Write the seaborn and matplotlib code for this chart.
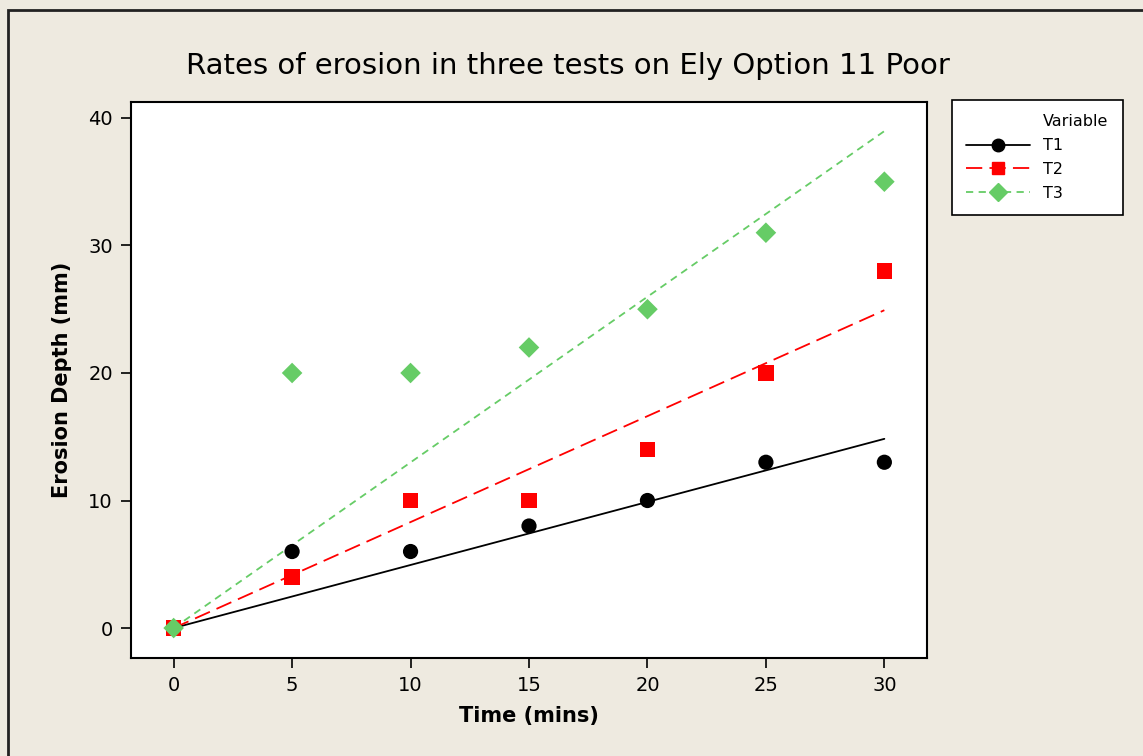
import numpy as np
import pandas as pd
import seaborn as sns
import matplotlib
matplotlib.use("Agg")
import matplotlib.pyplot as plt
from matplotlib.lines import Line2D
from matplotlib.patches import Rectangle

# Erosion measurements (mm) at each time step (mins)
time_mins = [0, 5, 10, 15, 20, 25, 30]
t1_depth = [0, 6, 6, 8, 10, 13, 13]
t2_depth = [0, 4, 10, 10, 14, 20, 28]
t3_depth = [0, 20, 20, 22, 25, 31, 35]
series_names = ["T1", "T2", "T3"]
x_ticks = [0, 5, 10, 15, 20, 25, 30]
y_ticks = [0, 10, 20, 30, 40]

sns.set_theme(style="white")
plt.rcParams["font.family"] = ["DejaVu Sans"]
plt.rcParams["text.color"] = "black"
plt.rcParams["axes.labelcolor"] = "black"

bg = "#EEEAE0"
colors = {"T1": "#000000", "T2": "#FF0000", "T3": "#66CC66"}
markers = {"T1": "o", "T2": "s", "T3": "D"}
msizes = {"T1": 120, "T2": 120, "T3": 110}
dashes = {"T1": (None, None), "T2": (9, 4), "T3": (4, 3)}

df = pd.DataFrame({
    "Time": time_mins * 3,
    "Depth": t1_depth + t2_depth + t3_depth,
    "Variable": sum([[n] * len(time_mins) for n in series_names], []),
})

# Least-squares line through the origin for each test
fits = []
for name, g in df.groupby("Variable"):
    x = g["Time"].to_numpy(float)
    y = g["Depth"].to_numpy(float)
    slope = (x * y).sum() / (x * x).sum()
    for xv in (min(time_mins), max(time_mins)):
        fits.append({"Time": xv, "Depth": slope * xv, "Variable": name})
fit_df = pd.DataFrame(fits)

fig = plt.figure(figsize=(11.43, 7.56), dpi=100, facecolor=bg)
fig.patches.append(Rectangle((8 / 1143, -0.05), 1.1, 1 - 10 / 756 + 0.05,
                             transform=fig.transFigure, fill=False,
                             edgecolor="#222222", linewidth=2, zorder=0))
ax = fig.add_axes([131 / 1143, 1 - 658 / 756, 796 / 1143, 556 / 756])
ax.set_facecolor("white")

for name in series_names:
    sub = fit_df[fit_df["Variable"] == name]
    sns.lineplot(data=sub, x="Time", y="Depth", ax=ax, color=colors[name],
                 linewidth=1.3, legend=False, zorder=2)
    line = ax.lines[-1]
    if name != "T1":
        line.set_dashes(dashes[name])

for i, name in enumerate(series_names):
    sub = df[df["Variable"] == name]
    sns.scatterplot(data=sub, x="Time", y="Depth", ax=ax, color=colors[name],
                    marker=markers[name], s=msizes[name], edgecolor="none",
                    legend=False, zorder=3 + i)

ax.set_xlim(-1.8, 31.8)
ax.set_ylim(-2.35, 41.25)
ax.set_xticks(x_ticks)
ax.set_yticks(y_ticks)
ax.tick_params(axis="both", direction="out", length=7, width=1.2,
               color="black", labelsize=14, labelcolor="black",
               bottom=True, left=True, pad=6)
for s in ax.spines.values():
    s.set_color("black")
    s.set_linewidth(1.5)

ax.set_xlabel("Time (mins)", fontsize=15, fontweight="bold", labelpad=8)
ax.set_ylabel("Erosion Depth (mm)", fontsize=15, fontweight="bold", labelpad=12)
fig.text(568 / 1143, 1 - 66 / 756, "Rates of erosion in three tests on Ely Option 11 Poor",
         ha="center", va="center", fontsize=21, color="black")

handles = [Line2D([], [], linestyle="none")]
labels = ["Variable"]
for name in series_names:
    h = Line2D([], [], color=colors[name], marker=markers[name],
               markersize=9, linewidth=1.3)
    if name != "T1":
        h.set_dashes(dashes[name])
    handles.append(h)
    labels.append(name)

leg = fig.legend(handles, labels, loc="upper left",
                 bbox_to_anchor=(952 / 1143, 1 - 100 / 756),
                 bbox_transform=fig.transFigure, frameon=True, fontsize=11.5,
                 handlelength=4.0, handletextpad=0.8, borderpad=0.9,
                 labelspacing=0.55, fancybox=False, borderaxespad=0,
                 framealpha=1)
leg.get_frame().set_edgecolor("black")
leg.get_frame().set_linewidth(1.2)
leg.get_frame().set_facecolor("white")
for t in leg.get_texts():
    t.set_color("black")

fig.savefig("out.png", dpi=100, facecolor=bg)
